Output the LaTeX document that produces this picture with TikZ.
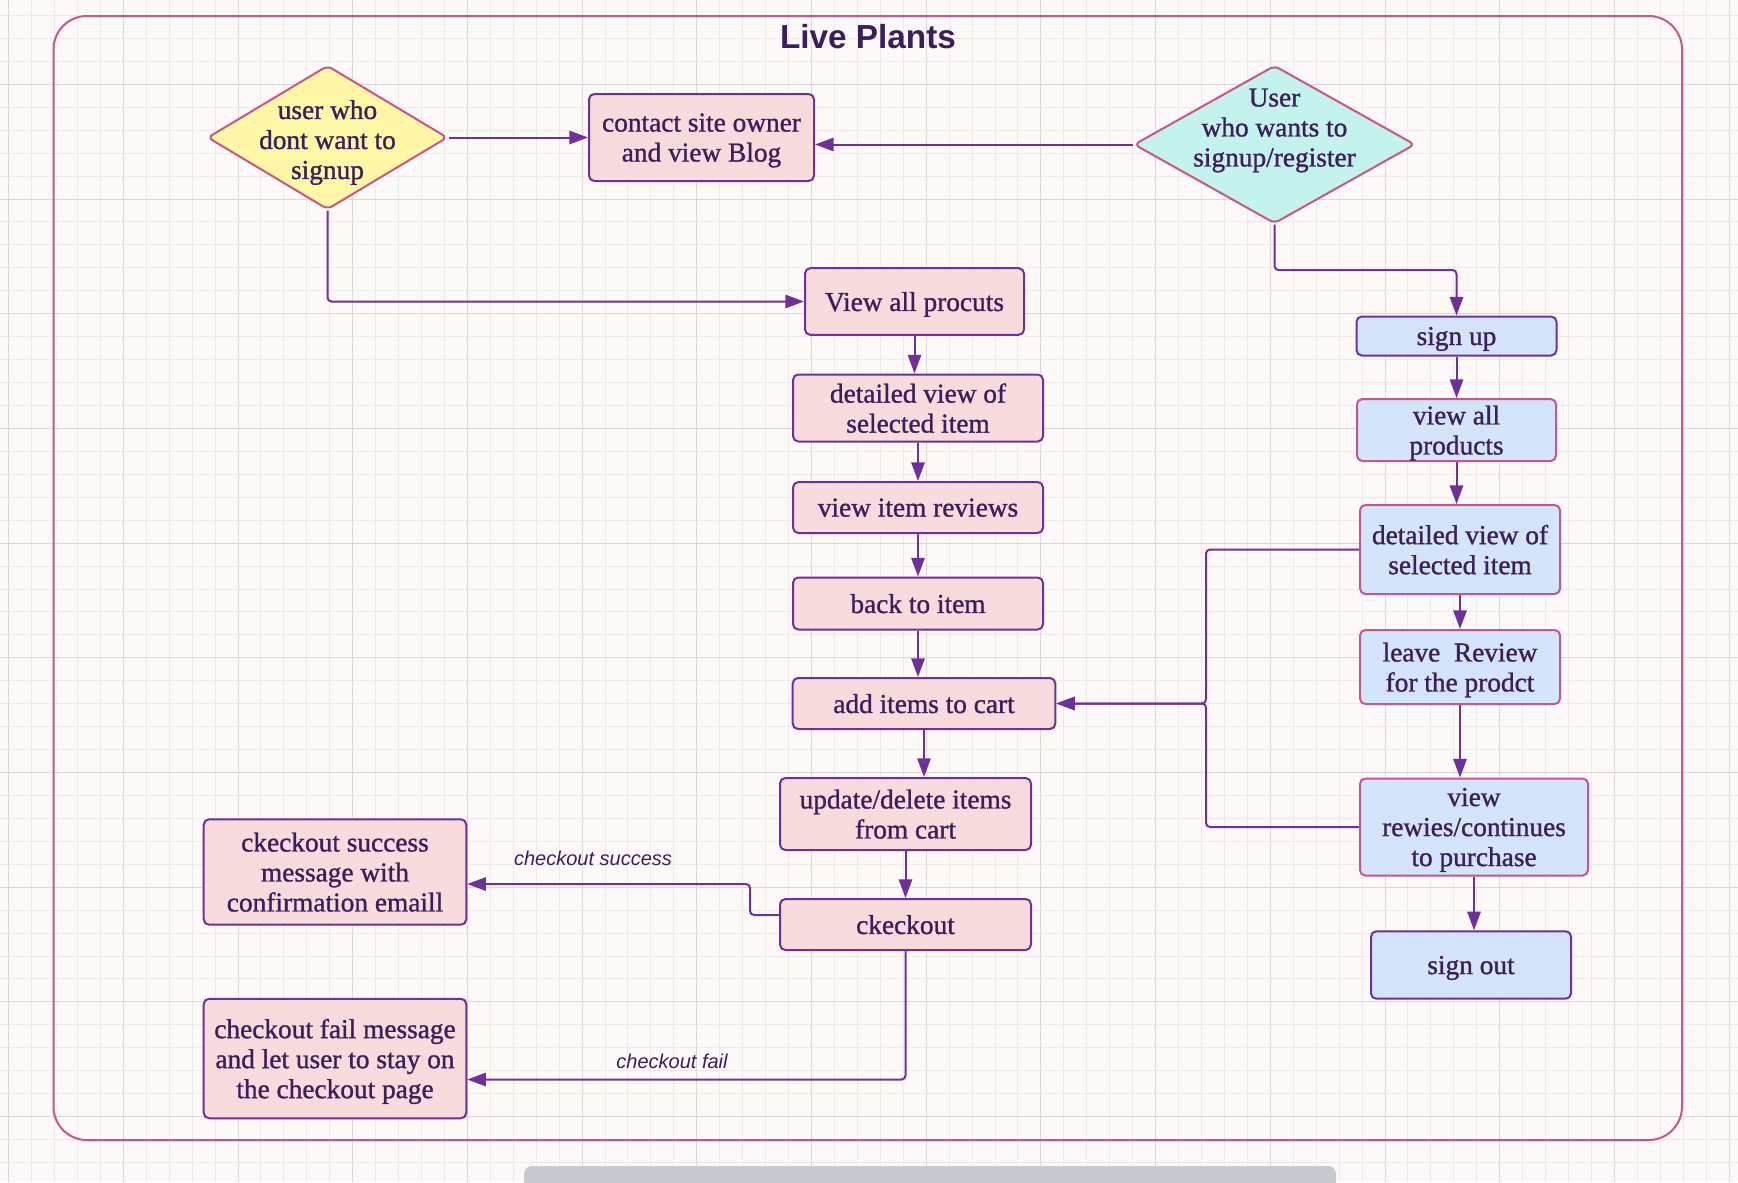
\documentclass[tikz,border=0pt]{standalone}
\usepackage{fontspec}
\setmainfont{Liberation Serif}
\newfontfamily\boxfont{Liberation Serif}[FakeBold=1.1]
\newfontfamily\lblfont{Liberation Sans}
\usetikzlibrary{shapes.geometric,arrows.meta,calc}

\definecolor{bgpaper}{HTML}{FDF9F8}
\definecolor{gridlo}{HTML}{EFE9E9}
\definecolor{gridhi}{HTML}{DDD7D7}
\definecolor{framepink}{HTML}{C9568B}
\definecolor{linepurple}{HTML}{70309A}
\definecolor{inkpurple}{HTML}{3C1E5C}
\definecolor{fillpink}{HTML}{F8DBDC}
\definecolor{fillblue}{HTML}{D4E4FA}
\definecolor{fillyellow}{HTML}{FFF6A6}
\definecolor{fillcyan}{HTML}{C4F2EC}
\definecolor{bargray}{HTML}{C9CACF}

\tikzset{every picture/.style={line width=0.75pt}}
\tikzset{
  boxtxt/.style={font=\boxfont\fontsize{20.5}{22.5}\selectfont, text=inkpurple, align=center, text depth=0pt},
  pinkbox/.style={boxtxt, draw=linepurple, fill=fillpink, line width=1.5pt, rounded corners=4pt, inner sep=2pt},
  bluebox/.style={pinkbox, fill=fillblue},
  blueboxm/.style={bluebox, draw=framepink},
  decision/.style={diamond, draw=framepink, line width=1.5pt, rounded corners=4pt, inner sep=0pt},
  flow/.style={draw=linepurple, line width=1.5pt, rounded corners=3pt, -{Triangle[length=14pt,width=10pt]}},
  edgelbl/.style={font=\lblfont\itshape\fontsize{15}{18}\selectfont, text=inkpurple, inner sep=0pt}
}

\begin{document}
\begin{tikzpicture}[x=0.75pt,y=0.75pt,yscale=-1,xscale=1]
\useasboundingbox (0,0) rectangle (1738,1182);

%Paper and grid
\fill[bgpaper] (0,0) rectangle (1738,1182);
\foreach \i in {0,...,75} \draw[gridlo] ({8.6+22.94*\i},0) -- ({8.6+22.94*\i},1182);
\foreach \j in {0,...,51} \draw[gridlo] (0,{15.5+22.94*\j}) -- (1738,{15.5+22.94*\j});
\foreach \i in {0,...,15} \draw[gridhi] ({8.6+114.7*\i},0) -- ({8.6+114.7*\i},1182);
\foreach \j in {0,...,9} \draw[gridhi] (0,{84.3+114.7*\j}) -- (1738,{84.3+114.7*\j});

%Scroll bar
\fill[bargray, rounded corners=6pt] (524,1166) rectangle (1336,1196);

%Frame
\draw[framepink, line width=1.5pt, rounded corners=25pt] (53.5,16) rectangle (1682,1140);

% Title
\node[font=\lblfont\bfseries\fontsize{25}{30}\selectfont, text=inkpurple, anchor=base] (title) at (868,48.3) {Live Plants};

% Top row
\node[decision, fill=fillyellow, minimum width=180pt, minimum height=108pt] (usr) at (327.5,137.5) {};
\node[boxtxt] (usrtxt) at ($(usr)+(0,2)$) {user who\\dont want to\\signup};
\node[pinkbox, minimum width=168.75pt, minimum height=65.25pt] (cont) at (701.5,137.5) {contact site owner\\and view Blog};
\node[decision, fill=fillcyan, minimum width=210.75pt, minimum height=118.5pt] (reg) at (1274.5,144.5) {};
\node[boxtxt] (regtxt) at ($(reg)+(0,-17)$) {User\\who wants to\\signup/register};

% Guest column
\node[pinkbox, minimum width=164.25pt, minimum height=50pt] (allprod) at (914.5,301.5) {View all procuts};
\node[pinkbox, minimum width=187.5pt, minimum height=50.25pt] (detl) at (918,408) {detailed view of\\selected item};
\node[pinkbox, minimum width=187.5pt, minimum height=38.25pt] (revs) at (918,507.5) {view item reviews};
\node[pinkbox, minimum width=187.5pt, minimum height=39pt] (back) at (918,603.5) {back to item};
\node[pinkbox, minimum width=196.9pt, minimum height=38.25pt] (cart) at (924,703.5) {add items to cart};
\node[pinkbox, minimum width=188.25pt, minimum height=54pt] (upd) at (905.5,814) {update/delete items\\from cart};
\node[pinkbox, minimum width=188.25pt, minimum height=38.25pt] (chk) at (905.5,924.5) {ckeckout};
\node[pinkbox, minimum width=196.9pt, minimum height=79.1pt] (succ) at (335,872) {ckeckout success\\message with\\confirmation emaill};
\node[pinkbox, minimum width=196.9pt, minimum height=89.6pt] (fail) at (335,1058.5) {checkout fail message\\and let user to stay on\\the checkout page};

% Member column
\node[bluebox, minimum width=150pt, minimum height=29.25pt] (signup) at (1456.5,336) {sign up};
\node[blueboxm, minimum width=149.25pt, minimum height=46.5pt] (viewall) at (1456.5,430) {view all\\products};
\node[blueboxm, minimum width=150pt, minimum height=66.75pt] (detr) at (1460,549.5) {detailed view of\\selected item};
\node[blueboxm, minimum width=150pt, minimum height=55.5pt] (leave) at (1460,667) {leave~~Review\\for the prodct};
\node[blueboxm, minimum width=171pt, minimum height=72.75pt] (rew) at (1474,827) {view\\rewies/continues\\to purchase};
\node[bluebox, minimum width=150pt, minimum height=50.6pt] (signout) at (1471,965) {sign out};

%Connectors
\draw[flow] (usr.east) -- (cont.west);
\draw[flow] (reg.west) -- (reg.west -| cont.east);
\draw[flow] (usr.south) |- (allprod.west);
\draw[flow] (reg.south) |- ($(reg.south)!.5!(signup.north)$) -| (signup.north);

\draw[flow] (allprod.south) -- (allprod.south |- detl.north);
\draw[flow] (detl.south) -- (detl.south |- revs.north);
\draw[flow] (revs.south) -- (revs.south |- back.north);
\draw[flow] (back.south) -- (back.south |- cart.north);
\draw[flow] (cart.south) -- (cart.south |- upd.north);
\draw[flow] (upd.south) -- (upd.south |- chk.north);
\draw[flow] ($(chk.west)+(0,-9.5)$) -- ++(-29,0) |- ($(succ.east)+(0,12)$);
\draw[flow] (chk.south) |- ($(fail.east)+(0,21)$);

\draw[flow] (signup.south) -- (signup.south |- viewall.north);
\draw[flow] (viewall.south) -- (viewall.south |- detr.north);
\draw[flow] (detr.south) -- (detr.south |- leave.north);
\draw[flow] (leave.south) -- (leave.south |- rew.north);
\draw[flow] (rew.south) -- (rew.south |- signout.north);
\draw[flow] (detr.west) -- ++(-153,0) |- (cart.east);
\draw[flow] (rew.west) -- ++(-153,0) |- (cart.east);

% Text Node
\node[edgelbl, anchor=base] (oklbl) at (593,865) {checkout success};
% Text Node
\node[edgelbl, anchor=base] (faillbl) at (672,1068) {checkout fail};

\end{tikzpicture}
\end{document}
